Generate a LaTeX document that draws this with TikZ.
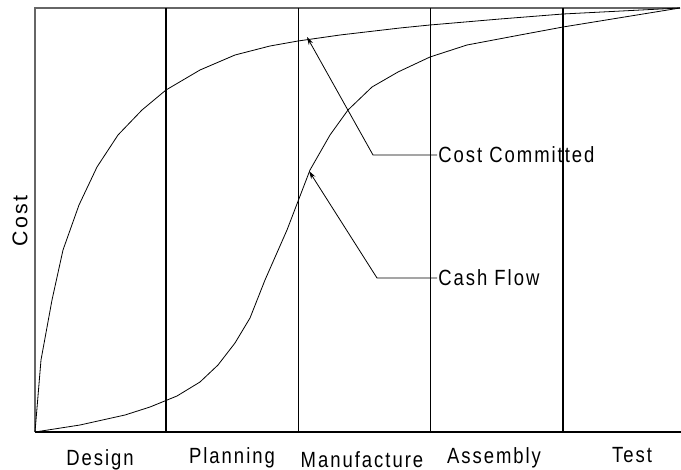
\documentclass[tikz,border=0pt]{standalone}
\usepackage{fontspec}
\setmainfont{Liberation Sans}[FakeStretch=0.84,LetterSpace=9]
\newfontfamily\axisfont{Liberation Sans}[LetterSpace=10]
\usetikzlibrary{arrows.meta}

\begin{document}
\begin{tikzpicture}[x=0.75pt,y=0.75pt,yscale=-1,xscale=1,
    phase/.style={line width=0.75pt},
    curve/.style={line width=0.6pt, line join=round},
    leader/.style={line width=0.6pt, -{Stealth[length=6pt,width=3.5pt]}},
    lbl/.style={font=\fontsize{16.5}{19}\selectfont, inner sep=0.75pt}]
        \useasboundingbox (0,0) rectangle (681,470);

        %Frame
        \draw [color=black!60, line width=1.1pt] (680,8) -- (35,8) -- (35,432) ;
        \draw [line width=0.9pt] (35,432) -- (681,432) ;
        %Phase borders
        \foreach \x/\w in {166/1.1,298/0.75,430/0.75,563/1.1} {
            \draw [phase, line width=\w pt] (\x,8) -- (\x,432) ;
        }

        %Cost committed curve
        \draw [curve] (35,432) -- (41,360) -- (52,300) -- (63,250) -- (79,205) -- (97,167) -- (118,135) -- (142,110) -- (166,90) -- (200,70) -- (235,55) -- (270,46) -- (298,41) -- (340,35) -- (400,28) -- (430,25) -- (500,19) -- (563,14) -- (680,8) ;
        %Cash flow curve
        \draw [curve] (35,432) -- (80,425) -- (125,415) -- (150,407) -- (177,396) -- (200,382) -- (218,365) -- (235,343) -- (250,318) -- (265,280) -- (287,230) -- (310,170) -- (330,135) -- (348,110) -- (372,87) -- (398,72) -- (430,57) -- (467,45) -- (520,35) -- (563,27) -- (680,8) ;

        % Text Node
        \node [lbl, anchor=west] (costlbl) at (437,155) {Cost Committed};
        % Text Node
        \node [lbl, anchor=west] (cashlbl) at (437,278) {Cash Flow};
        \coordinate (costknee) at (373,155);
        \coordinate (costtip) at (307,37);
        \coordinate (cashknee) at (377,278);
        \coordinate (cashtip) at (309,171);
        %Leaders
        \draw [leader] (costlbl.west) -- (costknee) -- (costtip) ;
        \draw [leader] (cashlbl.west) -- (cashknee) -- (cashtip) ;

        % Text Node
        \node [lbl, rotate=90, font=\axisfont\fontsize{16}{19}\selectfont] (costaxis) at (20,221) {Cost};
        % Phase names
        \node [lbl, anchor=base] (design) at (100,465) {Design};
        \node [lbl, anchor=base] (planning) at (232,463) {Planning};
        \node [lbl, anchor=base] (manufacture) at (362,467) {Manufacture};
        \node [lbl, anchor=base] (assembly) at (494,463) {Assembly};
        \node [lbl, anchor=base] (test) at (632,462) {Test};

\end{tikzpicture}
\end{document}
